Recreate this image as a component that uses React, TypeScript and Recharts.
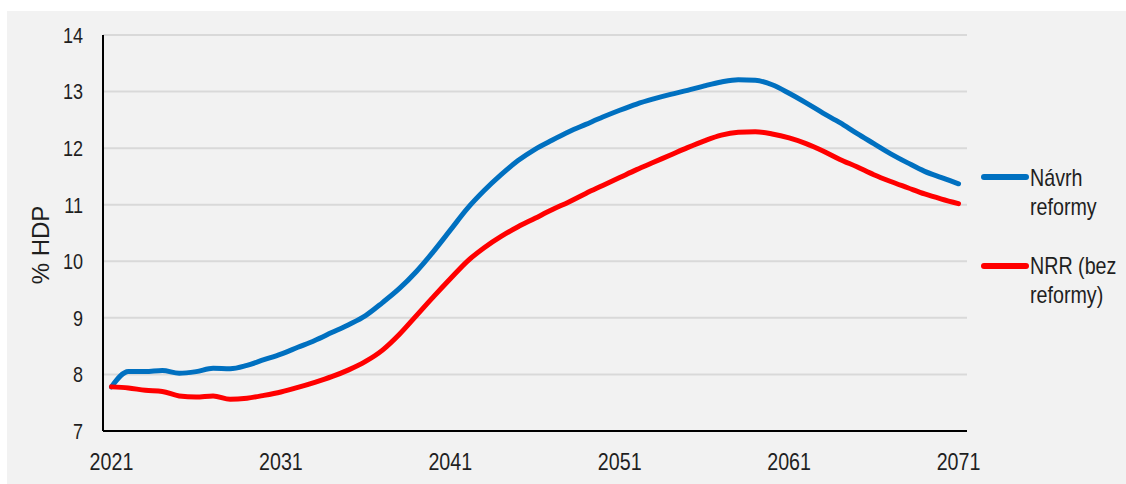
import { CartesianGrid, Legend, Line, LineChart, XAxis, YAxis } from 'recharts';

const years = Array.from({ length: 51 }, (_, i) => 2021 + i);

// % HDP
const navrhReformy = [
  7.78, 8.05, 8.05, 8.07, 8.02, 8.05, 8.11, 8.1, 8.16, 8.26,
  8.36, 8.48, 8.6, 8.74, 8.88, 9.04, 9.27, 9.52, 9.82, 10.17,
  10.55, 10.93, 11.25, 11.53, 11.78, 11.98, 12.14, 12.29, 12.42, 12.55,
  12.67, 12.78, 12.87, 12.95, 13.02, 13.1, 13.17, 13.21, 13.2, 13.12,
  12.97, 12.8, 12.62, 12.45, 12.26, 12.08, 11.9, 11.74, 11.59, 11.48,
  11.37,
];

const nrrBezReformy = [
  7.78, 7.76, 7.72, 7.7, 7.62, 7.6, 7.62, 7.56, 7.58, 7.63,
  7.69, 7.77, 7.86, 7.96, 8.08, 8.23, 8.43, 8.71, 9.04, 9.37,
  9.69, 10.0, 10.24, 10.44, 10.61, 10.76, 10.91, 11.05, 11.2, 11.34,
  11.48, 11.62, 11.75, 11.88, 12.01, 12.13, 12.23, 12.28, 12.29, 12.25,
  12.18, 12.08, 11.95, 11.8, 11.67, 11.53, 11.41, 11.3, 11.19, 11.1,
  11.02,
];

const xTicks = [2021, 2031, 2041, 2051, 2061, 2071];
const yTicks = [7, 8, 9, 10, 11, 12, 13, 14];

const seriesNames = ['Návrh reformy', 'NRR (bez reformy)'];
const seriesColors = ['#0070C0', '#FF0000'];

const data = years.map((year, i) => ({
  year,
  navrh: navrhReformy[i],
  nrr: nrrBezReformy[i],
}));

const FONT = "'Liberation Sans', Arial, sans-serif";
const TEXT = '#1f1f1f';
// the reference text is squeezed horizontally (narrow Arial look)
const SQUEEZE = 0.82;

function XTick({ x, y, payload }: any) {
  return (
    <text
      transform={`translate(${x},${y}) scale(${SQUEEZE},1)`}
      textAnchor="middle"
      dy="0.71em"
      fontSize={24}
      fontFamily={FONT}
      fill={TEXT}
    >
      {payload.value}
    </text>
  );
}

function YTick({ x, y, payload }: any) {
  return (
    <text
      transform={`translate(${x},${y}) scale(${SQUEEZE},1)`}
      textAnchor="end"
      dy="0.355em"
      fontSize={22}
      fontFamily={FONT}
      fill={TEXT}
    >
      {payload.value}
    </text>
  );
}

function YLabel({ viewBox }: any) {
  const cx = viewBox.x + 33;
  const cy = viewBox.y + viewBox.height / 2 + 12;
  return (
    <text
      transform={`translate(${cx},${cy}) rotate(-90)`}
      textAnchor="middle"
      dy="0.355em"
      fontSize={24}
      fontFamily={FONT}
      fill={TEXT}
    >
      % HDP
    </text>
  );
}

function LegendBox({ payload }: { payload?: any[] }) {
  const items = [...(payload ?? [])].sort(
    (a, b) => seriesNames.indexOf(a.value) - seriesNames.indexOf(b.value),
  );
  return (
    <div style={{ fontFamily: FONT, fontSize: 24, lineHeight: '28.5px', color: TEXT }}>
      {items.map((it, i) => (
        <div key={i} style={{ position: 'relative', height: 57, marginBottom: 31 }}>
          <div
            style={{
              position: 'absolute',
              left: 0,
              top: 10 + (i === 1 ? 1 : 0),
              width: 48,
              height: 6,
              borderRadius: 3,
              background: it.color,
            }}
          />
          <div
            style={{
              position: 'absolute',
              left: 49,
              top: 0,
              width: 120,
              textAlign: 'left',
              transform: `scaleX(${SQUEEZE})`,
              transformOrigin: 'left top',
            }}
          >
            {it.value}
          </div>
        </div>
      ))}
    </div>
  );
}

export default function App() {
  return (
    <div
      style={{
        position: 'absolute',
        left: 7,
        top: 11,
        width: 1119,
        height: 473,
        background: '#F2F2F2',
      }}
    >
      <LineChart
        width={1119}
        height={473}
        data={data}
        margin={{ top: 24, right: 159, left: 0, bottom: 0 }}
      >
        <CartesianGrid vertical={false} stroke="#D9D9D9" strokeWidth={2} />
        <XAxis
          dataKey="year"
          type="number"
          domain={[2020.5, 2071.5]}
          ticks={xTicks}
          interval={0}
          height={53}
          tickSize={0}
          tickMargin={22}
          axisLine={{ stroke: '#000', strokeWidth: 2 }}
          tick={<XTick />}
        />
        <YAxis
          domain={[7, 14]}
          ticks={yTicks}
          interval={0}
          width={96}
          tickSize={0}
          tickMargin={20}
          axisLine={{ stroke: '#000', strokeWidth: 2 }}
          tick={<YTick />}
          label={{ content: (p: any) => <YLabel {...p} /> }}
        />
        <Legend
          layout="horizontal"
          align="center"
          verticalAlign="middle"
          content={<LegendBox />}
          wrapperStyle={{ position: 'absolute', left: 974, top: 153, width: 145 }}
        />
        <Line
          type="monotone"
          dataKey="navrh"
          name={seriesNames[0]}
          stroke={seriesColors[0]}
          strokeWidth={5}
          strokeLinecap="round"
          strokeLinejoin="round"
          dot={false}
          isAnimationActive={false}
        />
        <Line
          type="monotone"
          dataKey="nrr"
          name={seriesNames[1]}
          stroke={seriesColors[1]}
          strokeWidth={5}
          strokeLinecap="round"
          strokeLinejoin="round"
          dot={false}
          isAnimationActive={false}
        />
      </LineChart>
    </div>
  );
}
